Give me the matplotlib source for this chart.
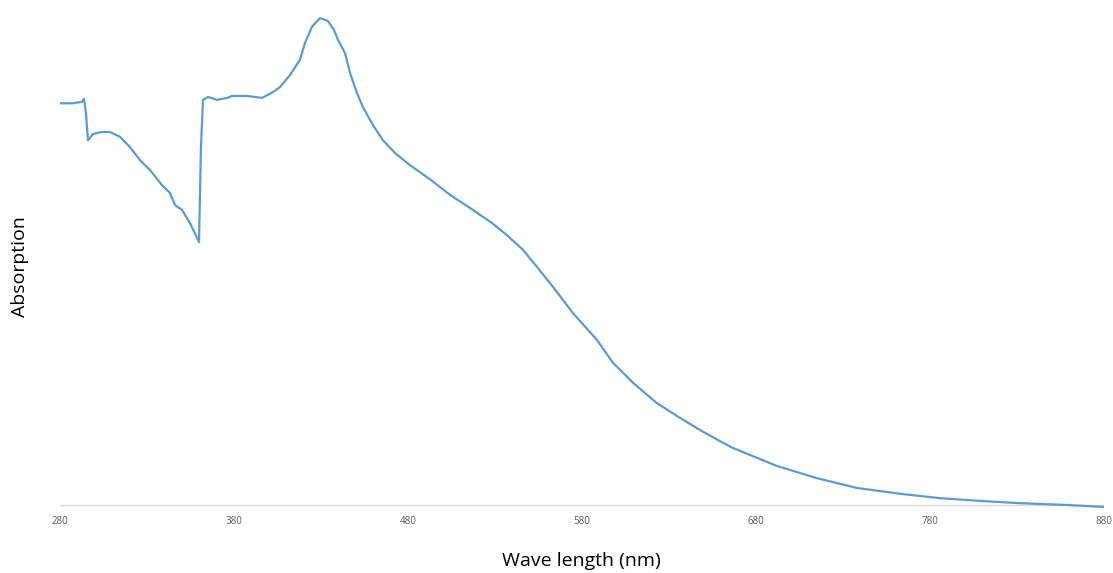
import matplotlib
matplotlib.use("Agg")
import matplotlib.pyplot as plt

# --------------------------------------------------
# DATA (arbitrary absorption units)
# --------------------------------------------------

wavelength = [
    280.0, 287.5, 292.6, 293.8, 294.9, 296.1, 299.0, 304.1, 308.7, 314.5,
    320.2, 326.0, 331.7, 338.6, 343.2, 346.1, 350.1, 354.7, 359.9, 361.0,
    362.2, 365.1, 370.2, 376.0, 378.9, 387.5, 396.1, 402.4, 406.4, 412.2,
    417.9, 420.8, 424.8, 429.4, 434.0, 437.5, 439.8, 443.8, 446.7, 450.7,
    454.1, 459.9, 465.6, 472.5, 481.1, 492.6, 504.1, 515.6, 528.3, 536.9,
    546.1, 554.1, 563.3, 574.8, 588.6, 597.8, 609.3, 623.1, 636.3, 647.8,
    659.3, 666.8, 692.1, 715.1, 738.0, 762.8, 785.7, 810.5, 830.0, 858.7,
    879.4,
]

absorption = [
    0.825, 0.825, 0.828, 0.834, 0.805, 0.749, 0.762, 0.766, 0.766, 0.756,
    0.735, 0.708, 0.688, 0.657, 0.641, 0.616, 0.606, 0.579, 0.540, 0.735,
    0.832, 0.838, 0.832, 0.836, 0.840, 0.840, 0.836, 0.848, 0.858, 0.883,
    0.914, 0.949, 0.982, 1.000, 0.994, 0.975, 0.955, 0.928, 0.887, 0.846,
    0.817, 0.780, 0.749, 0.723, 0.698, 0.669, 0.637, 0.610, 0.579, 0.554,
    0.524, 0.489, 0.448, 0.394, 0.339, 0.292, 0.251, 0.209, 0.179, 0.154,
    0.131, 0.117, 0.080, 0.055, 0.035, 0.023, 0.014, 0.008, 0.004, 0.000,
    -0.004,
]

x_ticks = [280, 380, 480, 580, 680, 780, 880]

# --------------------------------------------------
# PLOT
# --------------------------------------------------

plt.rcParams["font.family"] = ["Open Sans", "DejaVu Sans"]

fig = plt.figure(figsize=(11.13, 5.73), dpi=100)
ax = fig.add_axes([0.0539, 0.1017, 0.938, 0.8838])

ax.plot(wavelength, absorption, color="#5B9BD5", linewidth=1.6)
ax.axhline(0, color="#D9D9D9", linewidth=1.0, zorder=0)

ax.set_xlim(280, 880)
ax.set_ylim(-0.02, 1.02)

for s in ax.spines.values():
    s.set_visible(False)

ax.set_yticks([])
ax.set_xticks(x_ticks)
ax.set_xticklabels([str(t) for t in x_ticks])
ax.tick_params(axis="x", length=0, pad=1, labelsize=7, labelcolor="#595959")

fig.text(0.522, 0.021, "Wave length (nm)", ha="center", va="center",
         fontsize=14, color="black")
fig.text(0.018, 0.535, "Absorption", ha="center", va="center",
         rotation=90, fontsize=14, color="black")

fig.savefig("out.png", dpi=100, facecolor="white")
